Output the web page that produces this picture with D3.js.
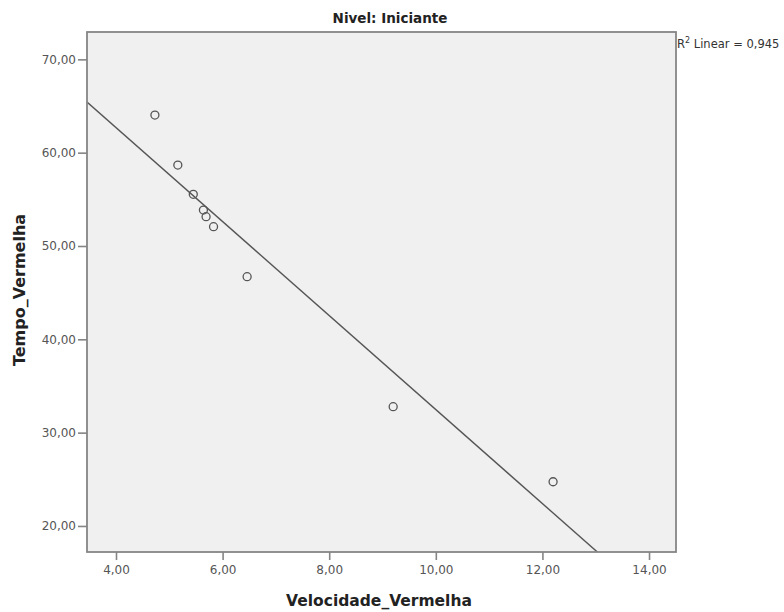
<!DOCTYPE html>
<html>
<head>
<meta charset="utf-8">
<script src="https://cdn.jsdelivr.net/npm/d3@7"></script>
<style>
  html, body { margin: 0; padding: 0; background: #fff; }
  svg { display: block; }
  text { font-family: "DejaVu Sans", Verdana, sans-serif; }
</style>
</head>
<body>
<svg id="chart" width="784" height="612"></svg>
<script>
// Velocidade vs. tempo (nível iniciante)
const velocidade = [4.73, 5.16, 5.45, 5.64, 5.69, 5.83, 6.46, 9.20, 12.20];
const tempo      = [64.03, 58.67, 55.54, 53.85, 53.14, 52.07, 46.71, 32.78, 24.74];
const xTicks = [4, 6, 8, 10, 12, 14];
const yTicks = [20, 30, 40, 50, 60, 70];
const title = "Nivel: Iniciante";
const xTitle = "Velocidade_Vermelha";
const yTitle = "Tempo_Vermelha";

const svg = d3.select("#chart");
const plot = { left: 87, top: 32, right: 676, bottom: 552 };

const x = d3.scaleLinear().domain([3.456, 14.506]).range([plot.left, plot.right]);
const y = d3.scaleLinear().domain([17.21, 72.93]).range([plot.bottom, plot.top]);

const fmt = v => d3.format(".2f")(v).replace(".", ",");

// least-squares fit line
const n = velocidade.length;
const mx = d3.mean(velocidade), my = d3.mean(tempo);
let sxx = 0, sxy = 0, syy = 0;
for (let i = 0; i < n; i++) {
  const dx = velocidade[i] - mx, dy = tempo[i] - my;
  sxx += dx * dx; sxy += dx * dy; syy += dy * dy;
}
const slope = sxy / sxx, intercept = my - slope * mx;
const r2 = (sxy * sxy) / (sxx * syy);

// plot area
svg.append("rect")
  .attr("x", plot.left).attr("y", plot.top)
  .attr("width", plot.right - plot.left).attr("height", plot.bottom - plot.top)
  .attr("fill", "#f0f0f0");

svg.append("clipPath").attr("id", "clip")
  .append("rect")
  .attr("x", plot.left).attr("y", plot.top)
  .attr("width", plot.right - plot.left).attr("height", plot.bottom - plot.top);

// fit line, clipped to the frame
const [x0, x1] = x.domain();
svg.append("line")
  .attr("clip-path", "url(#clip)")
  .attr("x1", x(x0)).attr("y1", y(intercept + slope * x0))
  .attr("x2", x(x1)).attr("y2", y(intercept + slope * x1))
  .attr("stroke", "#555").attr("stroke-width", 1.4);

// points
svg.append("g").selectAll("circle")
  .data(velocidade.map((v, i) => [v, tempo[i]]))
  .join("circle")
  .attr("cx", d => x(d[0])).attr("cy", d => y(d[1]))
  .attr("r", 4)
  .attr("fill", "none").attr("stroke", "#555").attr("stroke-width", 1.3);

// frame
svg.append("rect")
  .attr("x", plot.left).attr("y", plot.top)
  .attr("width", plot.right - plot.left).attr("height", plot.bottom - plot.top)
  .attr("fill", "none").attr("stroke", "#858585").attr("stroke-width", 1.8);

// axes
const xAxis = d3.axisBottom(x).tickValues(xTicks).tickFormat(fmt).tickSize(8).tickPadding(5);
const yAxis = d3.axisLeft(y).tickValues(yTicks).tickFormat(fmt).tickSize(9).tickPadding(2);

const gx = svg.append("g").attr("transform", `translate(0,${plot.bottom})`).call(xAxis);
const gy = svg.append("g").attr("transform", `translate(${plot.left},0)`).call(yAxis);
[gx, gy].forEach(g => {
  g.select(".domain").remove();
  g.selectAll(".tick line").attr("stroke", "#858585").attr("stroke-width", 1.6);
  g.selectAll(".tick text").attr("fill", "#555").attr("font-size", 12)
    .attr("font-family", "DejaVu Sans");
});

// titles
svg.append("text")
  .attr("x", 390).attr("y", 23)
  .attr("text-anchor", "middle").attr("font-size", 13.5).attr("font-weight", "bold")
  .attr("fill", "#222").text(title);

svg.append("text")
  .attr("x", 379).attr("y", 606)
  .attr("text-anchor", "middle").attr("font-size", 15.5).attr("font-weight", "bold")
  .attr("fill", "#222").text(xTitle);

svg.append("text")
  .attr("transform", `translate(25,290) rotate(-90)`)
  .attr("text-anchor", "middle").attr("font-size", 16).attr("font-weight", "bold")
  .attr("fill", "#222").text(yTitle);

// R² annotation
const r2Label = svg.append("text")
  .attr("x", plot.right + 1).attr("y", 48)
  .attr("font-size", 11.5).attr("fill", "#333");
r2Label.append("tspan").text("R");
r2Label.append("tspan").attr("dy", -5).attr("font-size", 8).text("2");
r2Label.append("tspan").attr("dy", 5).text(" Linear = " + d3.format(".3f")(r2).replace(".", ","));
</script>
</body>
</html>
